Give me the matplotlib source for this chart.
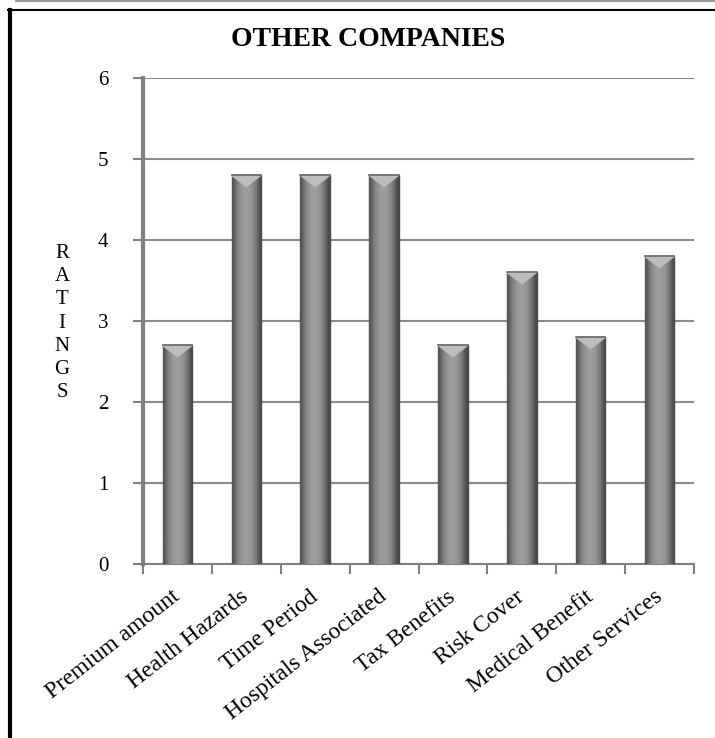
import numpy as np
import matplotlib
matplotlib.use("Agg")
import matplotlib.pyplot as plt
from matplotlib.lines import Line2D

categories = ["Premium amount", "Health Hazards", "Time Period", "Hospitals Associated",
              "Tax Benefits", "Risk Cover", "Medical Benefit", "Other Services"]
ratings = [2.7, 4.8, 4.8, 4.8, 2.7, 3.6, 2.8, 3.8]
y_ticks = [0, 1, 2, 3, 4, 5, 6]

plt.rcParams['font.family'] = ['Liberation Serif', 'DejaVu Serif']

fig = plt.figure(figsize=(7.15, 7.38), dpi=100)
ax = fig.add_axes([143 / 715, 1 - 564 / 738, (694 - 143) / 715, (564 - 78) / 738])

x = np.arange(len(categories))
bars = ax.bar(x, ratings, width=0.43, color="#8c8c8c", edgecolor="#4a4a4a", linewidth=1.0, zorder=3)

# cylinder-like shading on each bar
shade = np.array([0.33, 0.47, 0.55, 0.60, 0.62, 0.61, 0.58, 0.52, 0.42, 0.28])
grad = np.tile(shade, (2, 1))
for b in bars:
    x0, w, h = b.get_x(), b.get_width(), b.get_height()
    ax.imshow(grad, cmap="gray", vmin=0, vmax=1, aspect="auto",
              extent=(x0, x0 + w, 0, h), zorder=4, interpolation="bicubic")
    # light bevel at the top
    ax.fill([x0, x0 + w, x0 + w * 0.5], [h, h, h - 0.14], color="#bdbdbd", zorder=5)
    ax.plot([x0, x0 + w], [h, h], color="#6a6a6a", lw=1.2, zorder=6)

ax.set_xlim(-0.5, len(categories) - 0.5)
ax.set_ylim(0, 6)
ax.set_yticks(y_ticks)
ax.set_yticklabels([str(v) for v in y_ticks], fontsize=15)
ax.yaxis.grid(True, color="#8a8a8a", linewidth=1.5, zorder=0)
ax.set_axisbelow(True)

ax.set_xticks(x)
ax.set_xticklabels(categories, rotation=38, ha="right", va="center",
                   rotation_mode="anchor", fontsize=17)
ax.tick_params(axis="x", length=0, pad=22)
ax.set_xticks(np.arange(-0.5, len(categories)), minor=True)
ax.tick_params(axis="x", which="minor", length=7, width=1.5, color="#808080")
ax.tick_params(axis="y", length=7, width=1.5, color="#808080", pad=18)

for s in ["top", "right"]:
    ax.spines[s].set_visible(False)
ax.spines["left"].set_color("#808080")
ax.spines["left"].set_linewidth(3)
ax.spines["bottom"].set_color("#808080")
ax.spines["bottom"].set_linewidth(1.5)

fig.text(368 / 715, 1 - 40 / 738, "OTHER COMPANIES", ha="center", va="center",
         fontsize=20, fontweight="bold")
fig.text(62 / 715, 1 - 323 / 738, "\n".join("RATINGS"), ha="center", va="center",
         fontsize=15, linespacing=1.3)

# page borders
fig.add_artist(Line2D([16 / 715, 1], [1 - 1 / 738, 1 - 1 / 738], color="#999999", lw=1.5,
                      transform=fig.transFigure))
fig.add_artist(Line2D([8 / 715, 1], [1 - 10 / 738, 1 - 10 / 738], color="black", lw=1.5,
                      transform=fig.transFigure))
fig.add_artist(Line2D([10 / 715, 10 / 715], [0, 1 - 10 / 738], color="black", lw=3,
                      transform=fig.transFigure))

fig.savefig("out.png", dpi=100)
